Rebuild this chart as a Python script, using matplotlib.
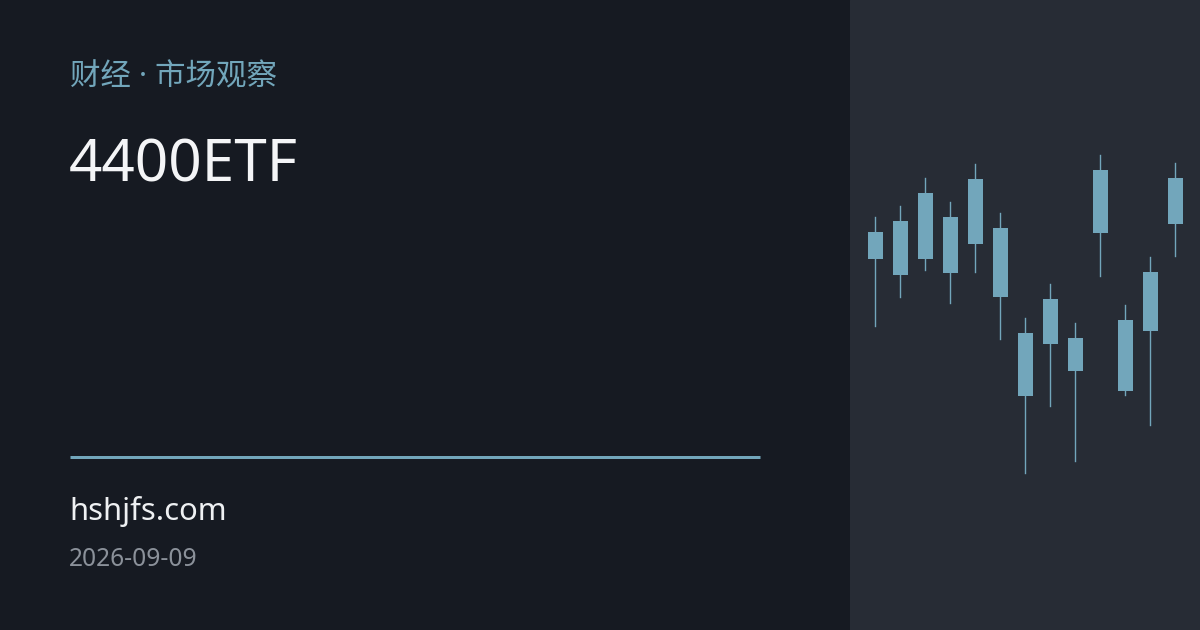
import matplotlib
matplotlib.use("Agg")
import matplotlib.pyplot as plt
from matplotlib.patches import Rectangle

# candle data (price units, all candles drawn in one colour)
candle_high = [28.3, 29.4, 32.2, 29.8, 33.6, 28.7, 18.2, 21.6, 17.7, 34.5, 19.5, 24.3, 33.7]
candle_top = [26.8, 27.9, 30.7, 28.3, 32.1, 27.2, 16.7, 20.1, 16.2, 33.0, 18.0, 22.8, 32.2]
candle_bottom = [24.1, 22.5, 24.1, 22.7, 25.6, 20.3, 10.4, 15.6, 12.9, 26.7, 10.9, 16.9, 27.6]
candle_low = [17.4, 20.3, 23.0, 19.7, 22.8, 16.1, 2.7, 9.4, 3.9, 22.4, 10.5, 7.5, 24.4]

kicker = "财经 · 市场观察"
title = "4400ETF"
site = "hshjfs.com"
date = "2026-09-09"

bg_left = "#161a22"
bg_right = "#272c35"
accent = "#72a6bb"

fig = plt.figure(figsize=(12, 6.3), dpi=100)
fig.patch.set_facecolor(bg_left)

# right panel with candles
ax = fig.add_axes([850 / 1200, 0, 350 / 1200, 1])
ax.set_facecolor(bg_right)
ax.set_xlim(-1, 13)
ax.set_ylim(-13, 50)
ax.axis("off")
ax.add_patch(Rectangle((0, 0), 1, 1, transform=ax.transAxes, color=bg_right, zorder=0))
for i in range(len(candle_high)):
    ax.plot([i, i], [candle_low[i], candle_high[i]], color=accent, linewidth=1.0, zorder=2)
    ax.add_patch(Rectangle((i - 0.3, candle_bottom[i]), 0.6, candle_top[i] - candle_bottom[i],
                           facecolor=accent, edgecolor="none", zorder=3))

fam = ["Noto Sans", "Noto Sans CJK SC", "DejaVu Sans"]
latin = ["Noto Sans", "DejaVu Sans"]


def px(x, y):
    return x / 1200, 1 - y / 630


fig.text(*px(70, 77), kicker, family=fam, fontsize=30.5 * 0.72, color=accent, va="center", ha="left")
fig.text(*px(69, 181), title, family=latin, fontsize=58.5 * 0.72, color="#f4f5f7", va="baseline", ha="left")

# accent rule
fig.add_artist(plt.Line2D([70 / 1200, 760 / 1200], [1 - 456.5 / 630] * 2, color=accent,
                          linewidth=3 * 0.72, solid_capstyle="butt"))

fig.text(*px(69, 520), site, family=latin, fontsize=31 * 0.72, color="#eef0f2", va="baseline", ha="left")
fig.text(*px(69, 566), date, family=latin, fontsize=24.6 * 0.72, color="#8b919a", va="baseline", ha="left")

fig.savefig("out.png", dpi=100, facecolor=fig.get_facecolor())
